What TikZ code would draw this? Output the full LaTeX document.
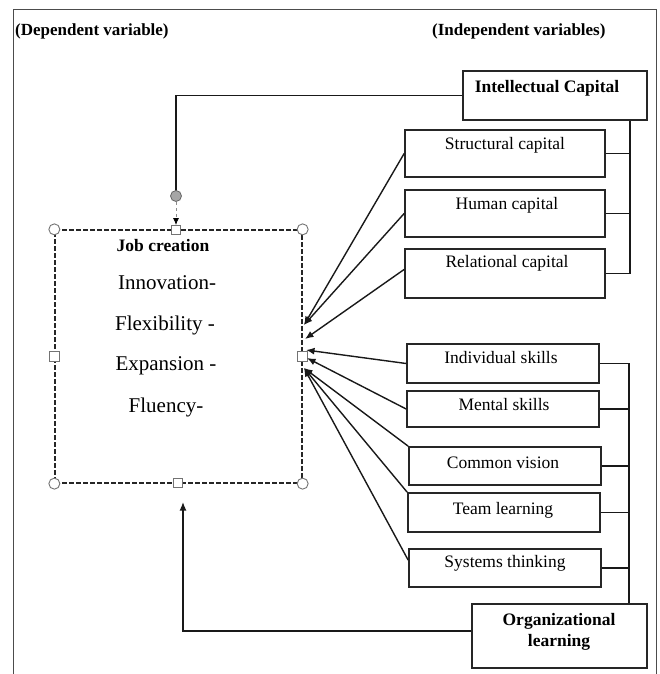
\documentclass[tikz,border=0pt]{standalone}
\usepackage{fontspec}
\setmainfont{Liberation Serif}
\usetikzlibrary{arrows.meta,calc}
\begin{document}
\begin{tikzpicture}[x=1pt,y=-1pt,
  box/.style={draw=black!85,line width=1.7pt,inner sep=0pt},
  lbl/.style={font=\fontsize{17.5}{19}\selectfont,inner sep=0pt},
  blbl/.style={font=\bfseries\fontsize{17.5}{19}\selectfont,inner sep=0pt},
  hdr/.style={font=\bfseries\fontsize{17}{18}\selectfont,inner sep=0pt,anchor=west},
  itm/.style={font=\fontsize{21}{23}\selectfont,inner sep=0pt},
  conn/.style={draw=black!90,line width=1.4pt},
  arr/.style={conn,-{Latex[length=8.5pt,width=7pt]}},
  hcirc/.style={circle,draw=black!55,fill=white,line width=0.9pt,minimum size=11pt,inner sep=0pt},
  hsq/.style={rectangle,draw=black!55,fill=white,line width=0.9pt,minimum size=9.5pt,inner sep=0pt},
  jobbox/.style={draw=black!85,line width=1.3pt,dash pattern=on 5pt off 2pt,inner sep=0pt}
]
\useasboundingbox (0,0) rectangle (659,674);
% frame
\draw[black!70,line width=1pt] (13,674) -- (13,10) -- (656,10) -- (656,674);

% headers
\node[hdr] (dep) at (15,31) {(Dependent variable)};
\node[hdr] (ind) at (432,31) {(Independent variables)};

% intellectual capital group
\node[box,minimum width=184pt,minimum height=49pt] (ic) at (555,95.5) {};
\node[blbl] (ict) at (547,88) {Intellectual Capital};
\node[box,minimum width=200pt,minimum height=47pt] (sc) at (505,153.5) {};
\node[lbl] (sct) at (505,145) {Structural capital};
\node[box,minimum width=200pt,minimum height=47pt] (hc) at (505,213.5) {};
\node[lbl] (hct) at (507,205) {Human capital};
\node[box,minimum width=200pt,minimum height=49pt] (rc) at (505,273.5) {};
\node[lbl] (rct) at (507,263) {Relational capital};

% organizational learning group
\node[box,minimum width=192pt,minimum height=39pt] (is) at (503,363.5) {};
\node[lbl] (ist) at (501,358) {Individual skills};
\node[box,minimum width=192pt,minimum height=36pt] (ms) at (503,409) {};
\node[lbl] (mst) at (504,405) {Mental skills};
\node[box,minimum width=192pt,minimum height=38pt] (cv) at (505,466) {};
\node[lbl] (cvt) at (503,463) {Common vision};
\node[box,minimum width=192pt,minimum height=39pt] (tl) at (504,512.5) {};
\node[lbl] (tlt) at (503,510) {Team learning};
\node[box,minimum width=192pt,minimum height=38pt] (st) at (505,568) {};
\node[lbl] (stt) at (505,563) {Systems thinking};
\node[box,minimum width=175pt,minimum height=64pt] (ol) at (559.5,636) {};
\node[blbl,align=center,font=\bfseries\fontsize{17.5}{21}\selectfont] (olt) at (559,632) {Organizational\\learning};

% brackets
\coordinate (bx) at (630,0);
\draw[conn] (ic.south -| bx) -- (rc.east -| bx);
\draw[conn] (sc.east) -- (sc.east -| bx);
\draw[conn] (hc.east) -- (hc.east -| bx);
\draw[conn] (rc.east) -- (rc.east -| bx);
\coordinate (bx2) at (629,0);
\draw[conn] (is.east) -| (ol.north -| bx2);
\draw[conn] (ms.east) -- (ms.east -| bx2);
\draw[conn] (cv.east) -- (cv.east -| bx2);
\draw[conn] (tl.east) -- (tl.east -| bx2);
\draw[conn] (st.east) -- (st.east -| bx2);

% job creation box
\node[jobbox,minimum width=247pt,minimum height=253pt] (job) at (178.5,356.5) {};
\node[blbl] (jct) at (163,246) {Job creation};
\node[itm] (i1) at (167,283) {Innovation-};
\node[itm] (i2) at (165,325) {Flexibility -};
\node[itm] (i3) at (166,366) {Expansion -};
\node[itm] (i4) at (166,407) {Fluency-};

% handles
\node[hcirc] (c1) at (job.north west) {};
\node[hcirc] (c2) at (job.north east) {};
\node[hcirc] (c3) at (job.south west) {};
\node[hcirc] (c4) at (job.south east) {};
\node[hsq] (s1) at (176,230) {};
\node[hsq] (s2) at (job.west) {};
\node[hsq] (s3) at (job.east) {};
\node[hsq] (s4) at (178,483) {};

% arrows to job box
\coordinate (t1) at (304,325);
\coordinate (t2) at (305,339);
\coordinate (t3) at (306,350);
\coordinate (t4) at (307,358);
\coordinate (t5) at (304,368);
\draw[arr] (sc.west) -- (t1);
\draw[arr] (hc.west) -- (t1);
\draw[arr] ($(rc.north west)!0.42!(rc.south west)$) -- (t2);
\draw[arr] (is.west) -- (t3);
\draw[arr] (ms.west) -- (t4);
\draw[arr] (cv.north west) -- (t5);
\draw[arr] (tl.north west) -- (t5);
\draw[arr] ($(st.north west)!0.3!(st.south west)$) -- (t5);

% top connector
\coordinate (gc) at (176,196);
\coordinate (jtop) at (176,225);
\draw[conn] (ic.west) -| (gc);
\draw[draw=black!45,line width=0.8pt,dashed,-{Latex[length=7pt,width=6pt,color=black]}] (gc) -- (jtop);
\node[circle,draw=black!60,fill=black!35,minimum size=11pt,inner sep=0pt,line width=0.8pt] (gcirc) at (gc) {};

% bottom connector
\coordinate (bt) at (183,502);
\draw[arr] ([yshift=5pt]ol.west) -| (bt);
\end{tikzpicture}
\end{document}
